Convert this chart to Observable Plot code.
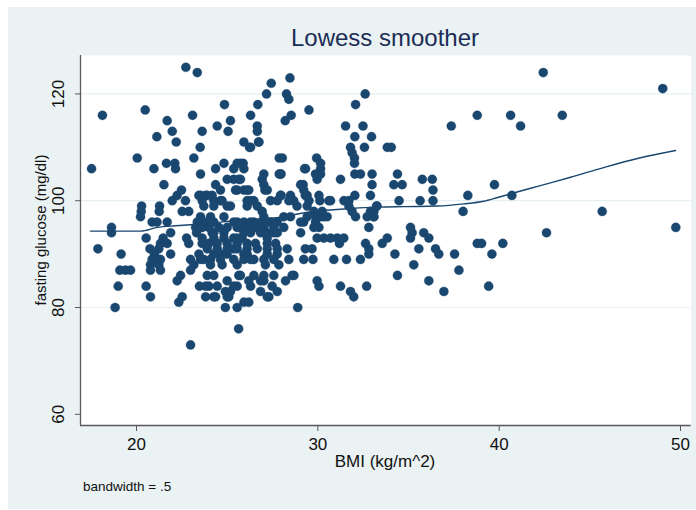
<!DOCTYPE html>
<html>
<head>
<meta charset="utf-8">
<script src="https://cdn.jsdelivr.net/npm/d3@7"></script>
<script src="https://cdn.jsdelivr.net/npm/@observablehq/plot@0.6"></script>
<style>
  html, body { margin: 0; padding: 0; background: #ffffff; }
  #wrap { position: relative; width: 696px; height: 510px; overflow: hidden; font-family: "Liberation Sans", Arial, Helvetica, sans-serif; }
  #panel { position: absolute; left: 8px; top: 7px; width: 688px; height: 502px; background: #eaf2f3; }
  #chart { position: absolute; left: 0; top: 0; }
  .txt { position: absolute; white-space: nowrap; color: #1e2a44; }
</style>
</head>
<body>
<div id="wrap">
  <div id="panel"></div>
  <div id="chart"></div>
  <div class="txt" id="title" style="left:385px; top:38px; transform:translate(-50%,-50%); font-size:24px; color:#1c2c55;">Lowess smoother</div>
  <div class="txt" id="xtitle" style="left:385px; top:462px; transform:translate(-50%,-50%); font-size:17px; color:#111;">BMI (kg/m^2)</div>
  <div class="txt" id="ytitle" style="left:40px; top:230px; transform:translate(-50%,-50%) rotate(-90deg); font-size:15px; color:#111;">fasting glucose (mg/dl)</div>
  <div class="txt" id="caption" style="left:83px; top:486px; transform:translate(0,-50%); font-size:13.5px; color:#111;">bandwidth = .5</div>
</div>
<script>
// Axis ticks
const xTicks = [20, 30, 40, 50];
const yTicks = [60, 80, 100, 120];
const yGrid = [80, 100, 120];

// Scatter points: [BMI (kg/m^2), fasting glucose (mg/dl)]
const points = [
[22.72,125],[23.35,124],[27.43,122],[27.17,120],[18.12,116],[20.48,117],[24.85,118],[26.69,118],[23.09,116],[26.29,116],
[21.69,115],[25.18,115],[24.45,114],[26.66,114],[21.97,113],[23.62,113],[25.05,113],[26.66,113],[21.12,112],[22.19,111],
[25.92,111],[26.73,111],[23.51,110],[26.23,110],[20.04,108],[23.16,108],[27.87,108],[17.52,106],[20.96,106],[21.65,107],
[22.11,107],[22.15,106],[24.82,107],[24.36,106],[25.55,107],[25.88,107],[25.36,106],[23.53,105],[25.0,104],[25.64,104],
[27.02,105],[26.93,104],[27.87,105],[21.51,103],[24.36,103],[25.46,102],[26.10,102],[27.08,102],[22.48,102],[24.63,102],
[23.44,101],[23.81,101],[24.17,101],[22.24,101],[21.97,100],[22.70,100],[23.62,100],[24.26,100],[24.72,100],[26.10,100],
[26.47,100],[27.39,100],[27.76,100],[20.28,99],[21.27,99],[20.26,98],[21.25,98],[22.52,98],[22.88,98],[23.71,99],
[24.26,99],[25.18,99],[26.10,99],[26.66,99],[26.93,98],[20.22,97],[21.69,96],[20.86,96],[21.13,96],[18.62,95],
[18.62,94],[23.35,96],[23.71,96],[24.08,97],[24.26,96],[24.82,97],[25.55,96],[25.92,96],[26.29,96],[26.93,96],
[27.39,96],[27.76,96],[23.26,95],[23.62,95],[23.99,95],[24.54,95],[25.0,95],[25.55,95],[26.10,95],[26.56,95],
[27.02,95],[27.57,95],[20.53,93],[21.47,93],[21.88,94],[22.76,93],[23.31,94],[23.62,93],[24.17,94],[24.26,93],
[24.82,94],[25.36,93],[25.82,93],[26.29,94],[26.84,94],[27.21,93],[27.76,94],[17.87,91],[21.32,92],[21.69,92],
[20.74,91],[21.23,91],[22.88,92],[23.62,92],[23.99,92],[24.45,92],[25.0,92],[25.55,92],[26.10,92],[26.56,92],
[27.21,92],[27.67,92],[23.90,91],[24.45,91],[25.0,91],[25.55,91],[26.10,91],[26.66,91],[27.21,91],[27.76,91],
[19.15,90],[20.99,90],[21.88,90],[23.44,90],[24.26,90],[25.0,90],[25.92,90],[27.21,90],[20.86,89],[21.32,89],
[22.98,89],[23.71,89],[24.08,89],[25.36,89],[25.92,89],[26.47,89],[27.02,89],[27.57,89],[19.08,87],[19.39,87],
[19.67,87],[20.77,88],[21.23,88],[20.77,87],[21.32,87],[23.16,88],[22.98,87],[24.72,88],[23.90,86],[24.26,86],
[25.0,85],[25.64,86],[26.47,86],[27.02,86],[22.43,86],[22.24,85],[18.99,84],[20.53,84],[23.47,84],[23.99,84],
[24.45,84],[25.36,84],[26.19,85],[26.84,85],[27.48,84],[20.77,82],[22.52,82],[22.33,81],[23.81,82],[24.36,82],
[24.90,83],[25.0,82],[25.18,83],[26.84,83],[27.30,82],[25.92,81],[26.19,81],[25.55,80],[24.90,80],[18.82,80],
[25.63,76],[22.98,73],
[28.46,123],[28.27,120],[28.40,119],[32.61,120],[32.08,118],[29.51,117],[28.53,116],[28.20,115],[31.53,114],[32.49,114],
[37.36,114],[32.04,112],[32.96,112],[31.80,110],[32.57,110],[33.83,110],[34.05,110],[31.89,109],[32.02,108],[32.02,107],
[28.04,108],[29.93,108],[30.15,107],[29.27,106],[29.96,104],[30.15,105],[27.97,105],[31.25,104],[32.04,105],[32.35,105],
[32.99,105],[34.39,105],[35.76,104],[36.31,104],[29.19,103],[29.22,102],[29.31,101],[32.99,103],[34.19,103],[34.65,103],
[36.35,102],[27.97,101],[28.49,101],[28.67,100],[28.40,100],[28.85,99],[29.51,100],[30.11,100],[30.70,100],[31.44,100],
[31.71,100],[32.04,101],[32.90,101],[34.48,100],[35.64,100],[36.35,100],[29.41,99],[29.78,98],[30.24,98],[30.51,97],
[30.15,97],[29.88,97],[31.71,99],[31.89,98],[32.08,97],[32.90,98],[33.26,99],[33.08,97],[32.72,97],[29.22,96],
[29.78,95],[30.06,95],[32.81,95],[29.96,93],[30.33,93],[30.70,93],[31.07,93],[31.43,93],[31.19,92],[32.63,92],
[32.81,91],[33.55,92],[33.83,93],[35.11,95],[35.20,94],[35.11,93],[35.84,94],[36.12,93],[35.57,91],[36.49,91],
[36.67,90],[37.54,90],[29.31,91],[29.68,91],[29.22,89],[29.73,89],[30.88,89],[31.58,89],[32.35,89],[32.81,90],
[34.25,90],[35.29,88],[37.78,87],[28.68,86],[28.22,85],[29.96,85],[30.06,84],[31.25,84],[31.80,83],[31.98,82],
[32.69,84],[34.39,86],[36.12,85],[36.95,83],[28.89,80],
[42.43,124],[49.02,121],[38.79,116],[40.63,116],[43.48,116],[41.18,114],[39.74,103],[38.27,101],[40.70,101],[38.01,98],
[45.68,98],[33.24,99],[33.09,98],[33.09,97],[42.61,94],[49.74,95],[38.79,92],[39.03,92],[40.20,92],[39.60,90],
[39.42,84],
[26.29,110],[26.75,111],[25.73,107],[25.92,106],[27.94,105],[29.32,106],[29.87,105],[30.15,106],[25.36,104],[25.73,104],
[25.55,102],[25.92,102],[26.19,102],[27.02,103],[27.21,102],[27.94,101],[29.05,103],[29.41,101],[30.06,101],[30.61,100],
[23.53,101],[23.90,101],[24.63,100],[25.0,99],[26.29,100],[23.53,97],[24.08,96],[25.36,96],[25.73,95],[26.47,96],
[27.02,97],[27.21,96],[28.12,97],[28.49,97],[29.05,96],[29.41,97],[29.87,96],[30.33,97],[23.53,95],[24.26,94],
[24.82,93],[25.55,93],[25.92,94],[26.84,95],[27.21,94],[27.57,94],[28.12,95],[29.05,94],[24.63,90],[25.36,91],
[26.10,90],[27.76,90],[28.31,91],[23.53,89],[24.08,88],[24.63,89],[25.55,88],[26.29,89],[27.11,88],[27.85,88],
[28.40,89],[25.73,86],[27.02,85],[27.57,86],[28.58,86],[23.81,84],[24.26,82],[25.09,82],[25.55,84],[26.29,84],
[27.21,82],[27.76,83]
];

// Lowess smoother (bandwidth = .5)
const lowessBmi     = [17.46, 20.22, 21.16, 22.15, 22.98, 24.63, 26.29, 27.94, 29.21, 31.25, 33.29, 34.73, 36.60, 38.04, 39.14, 39.91, 40.74, 42.12, 43.94, 45.76, 47.63, 49.73];
const lowessGlucose = [94.3, 94.3, 95.0, 95.3, 95.5, 96.0, 96.5, 96.9, 97.7, 98.4, 98.8, 98.9, 99.0, 99.4, 99.9, 100.6, 101.4, 102.7, 104.4, 106.2, 107.9, 109.4];

const xDomain = [16.91, 50.59];
const yDomain = [57.9, 127.2];
const navy = "#1a476f";
const axisColor = "#5a5a5a";

const curve = lowessBmi.map((b, i) => ({bmi: b, glu: lowessGlucose[i]}));

const chart = Plot.plot({
  width: 696,
  height: 510,
  marginLeft: 80,
  marginRight: 5.3,
  marginTop: 55,
  marginBottom: 85,
  style: {background: "transparent", fontFamily: "'Liberation Sans', Arial, Helvetica, sans-serif", color: "#111"},
  x: {domain: xDomain},
  y: {domain: yDomain},
  marks: [
    Plot.frame({fill: "white", stroke: null}),
    Plot.gridY(yGrid, {stroke: "#e6eff1", strokeOpacity: 1, strokeWidth: 1.2}),
    Plot.dot(points, {x: d => d[0], y: d => d[1], r: 4.6, fill: navy, stroke: navy, strokeWidth: 0.3}),
    Plot.line(curve, {x: "bmi", y: "glu", stroke: navy, strokeWidth: 1.4, curve: "monotone-x"}),
    Plot.axisX(xTicks, {tickSize: 6, tickPadding: 6, fontSize: 17, stroke: axisColor, label: null}),
    Plot.axisY(yTicks, {tickSize: 5, tickRotate: -90, tickPadding: 12, fontSize: 17, stroke: axisColor, label: null}),
    Plot.ruleX([xDomain[0]], {stroke: axisColor, strokeWidth: 1.3}),
    Plot.ruleY([yDomain[0]], {stroke: axisColor, strokeWidth: 1.3})
  ]
});
document.getElementById("chart").appendChild(chart);
</script>
</body>
</html>
